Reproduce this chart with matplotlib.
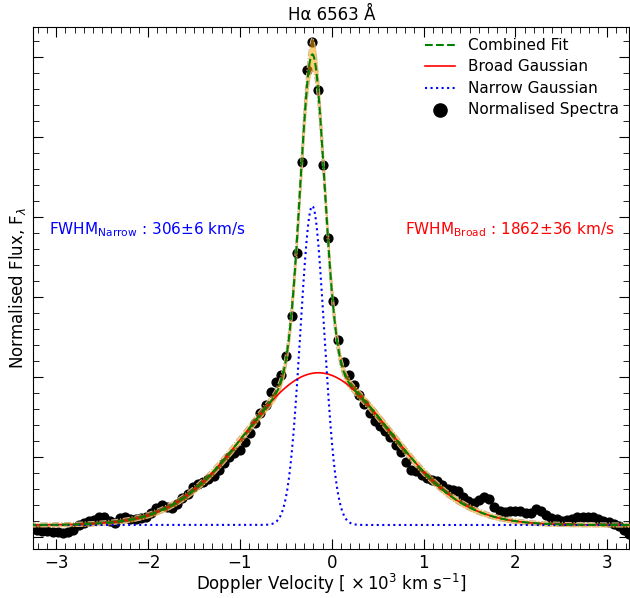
import numpy as np
import matplotlib.pyplot as plt
from matplotlib.ticker import MultipleLocator, NullFormatter

# spectrum sampling (velocity in 10^3 km/s)
v_first = -3.2674
v_step = 0.0566

# normalised flux, one value per pixel
flux = [0.10, 0.09, 0.075, 0.069, 0.0625, 0.0625, 0.054, 0.0625, 0.081, 0.15,
        0.181, 0.194, 0.2125, 0.25, 0.25, 0.20, 0.175, 0.2375, 0.25, 0.225,
        0.225, 0.2375, 0.25, 0.30, 0.3625, 0.40, 0.379, 0.3625, 0.4125, 0.4875,
        0.5375, 0.625, 0.6625, 0.6875, 0.725, 0.7625, 0.8375, 0.925, 1.00, 1.05,
        1.0875, 1.1875, 1.30, 1.425, 1.55, 1.65, 1.8125, 1.94, 2.03, 2.2625,
        2.766, 3.554, 4.691, 5.8375, 6.191, 5.596, 4.658, 3.734, 2.954, 2.4625,
        2.1875, 2.025, 1.90, 1.775, 1.6625, 1.554, 1.454, 1.3875, 1.331, 1.256,
        1.156, 1.059, 0.941, 0.8375, 0.819, 0.781, 0.7375, 0.7125, 0.70, 0.644,
        0.594, 0.5875, 0.575, 0.506, 0.454, 0.429, 0.4625, 0.50, 0.469, 0.375,
        0.325, 0.316, 0.319, 0.331, 0.325, 0.30, 0.30, 0.35, 0.331, 0.275,
        0.2375, 0.221, 0.206, 0.2125, 0.229, 0.244, 0.246, 0.246, 0.254, 0.221,
        0.204, 0.184, 0.1625, 0.131, 0.0875, 0.0375]

# fitted parameters
continuum = 0.15
broad_amp, broad_amp_err = 1.904, 0.03
broad_cen = -0.146
broad_fwhm, broad_fwhm_err = 1.862, 0.036
narrow_amp, narrow_amp_err = 3.99, 0.15
narrow_cen = -0.212
narrow_fwhm, narrow_fwhm_err = 0.306, 0.006


def gauss(x, amp, cen, fwhm):
    sig = fwhm / 2.3548
    return amp * np.exp(-0.5 * ((x - cen) / sig) ** 2)


vel = v_first + v_step * np.arange(len(flux))
vm = np.linspace(-3.3, 3.3, 800)
broad = continuum + gauss(vm, broad_amp, broad_cen, broad_fwhm)
narrow = continuum + gauss(vm, narrow_amp, narrow_cen, narrow_fwhm)
combined = continuum + gauss(vm, broad_amp, broad_cen, broad_fwhm) + gauss(vm, narrow_amp, narrow_cen, narrow_fwhm)
upper = continuum + 0.025 + gauss(vm, broad_amp + broad_amp_err, broad_cen, broad_fwhm + broad_fwhm_err / 2) \
    + gauss(vm, narrow_amp + narrow_amp_err, narrow_cen, narrow_fwhm + narrow_fwhm_err)
lower = continuum - 0.025 + gauss(vm, broad_amp - broad_amp_err, broad_cen, broad_fwhm - broad_fwhm_err / 2) \
    + gauss(vm, narrow_amp - narrow_amp_err, narrow_cen, narrow_fwhm - narrow_fwhm_err)

fig = plt.figure(figsize=(6.3, 5.98), dpi=100)
ax = fig.add_axes([0.0529, 0.082, 0.946, 0.8723])

ax.scatter(vel, flux, s=40, color='black', zorder=2, label='Normalised Spectra')
ax.fill_between(vm, lower, upper, color='orange', alpha=0.55, lw=0, zorder=3)
ax.plot(vm, upper, color='tan', ls='-.', lw=0.8, zorder=3)
ax.plot(vm, lower, color='tan', ls='-.', lw=0.8, zorder=3)
ax.plot(vm, combined, color='green', ls='--', lw=1.5, zorder=5, label='Combined Fit')
ax.plot(vm, broad, color='red', ls='-', lw=1.2, zorder=4, label='Broad Gaussian')
ax.plot(vm, narrow, color='blue', ls=':', lw=1.5, zorder=4, label='Narrow Gaussian')

ax.text(-3.08, 3.85, r'FWHM$_{\rm Narrow}$ : 306$\pm$6 km/s', color='blue', fontsize=11, va='center')
ax.text(3.08, 3.85, r'FWHM$_{\rm Broad}$ : 1862$\pm$36 km/s', color='red', fontsize=11, va='center', ha='right')

ax.set_xlim(-3.25, 3.24)
ax.set_ylim(-0.15, 6.375)
ax.xaxis.set_major_locator(MultipleLocator(1))
ax.xaxis.set_minor_locator(MultipleLocator(0.1))
ax.yaxis.set_major_locator(MultipleLocator(1))
ax.yaxis.set_minor_locator(MultipleLocator(0.2))
ax.yaxis.set_major_formatter(NullFormatter())
ax.tick_params(which='both', direction='in', top=True, right=True)
ax.tick_params(which='major', length=7, labelsize=12)
ax.tick_params(which='minor', length=4)

ax.set_xlabel(r'Doppler Velocity [ $\times\,10^3$ km s$^{-1}$]', fontsize=12, labelpad=0)
ax.set_ylabel(r'Normalised Flux, F$_\lambda$', fontsize=12, labelpad=0)
ax.set_title('Hα 6563 Å', fontsize=12, pad=5)

handles, labels = ax.get_legend_handles_labels()
order = [1, 2, 3, 0]
ax.legend([handles[i] for i in order], [labels[i] for i in order], loc='upper right',
          frameon=False, fontsize=11, markerscale=1.5, borderaxespad=0.3, labelspacing=0.42)

plt.savefig('out.png')
